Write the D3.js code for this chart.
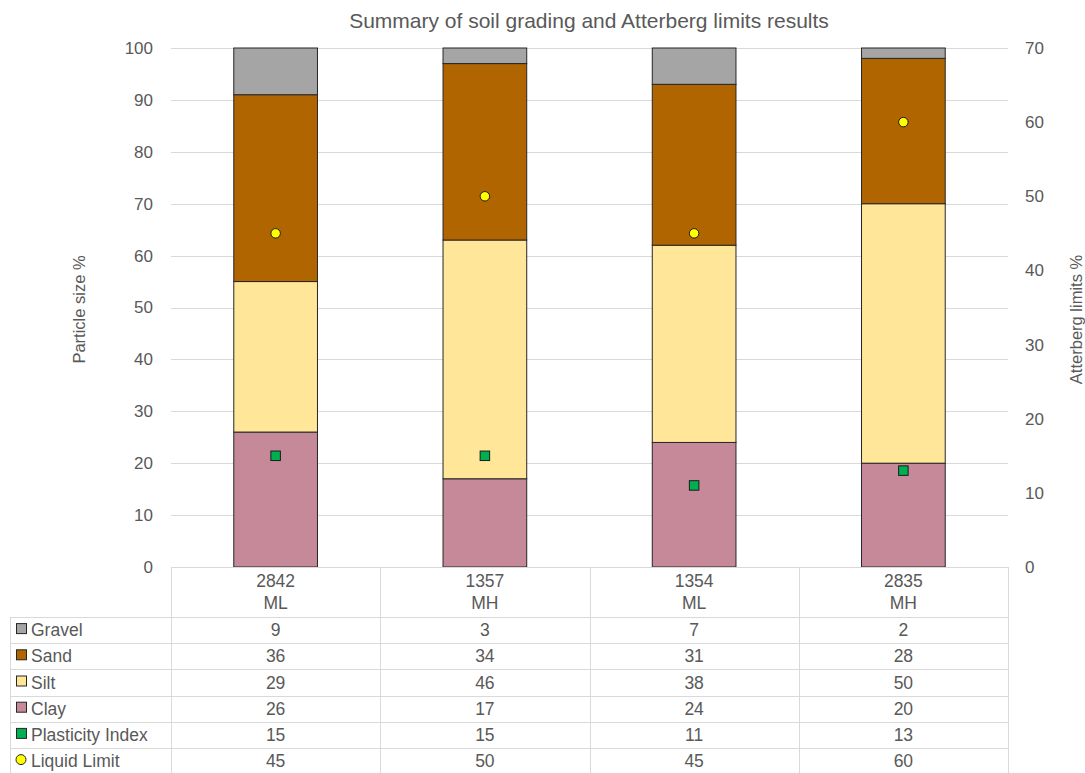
<!DOCTYPE html>
<html>
<head>
<meta charset="utf-8">
<script src="https://cdn.jsdelivr.net/npm/d3@7"></script>
<style>
  html, body { margin: 0; padding: 0; background: #fff; }
  svg { display: block; font-family: "Liberation Sans", Arial, sans-serif; }
</style>
</head>
<body>
<svg id="chart" width="1085" height="773"></svg>
<script>
// Samples: lab number and soil classification
const sampleIds = ["2842", "1357", "1354", "2835"];
const sampleClasses = ["ML", "MH", "ML", "MH"];

// Particle size distribution (%)
const gravel = [9, 3, 7, 2];
const sand = [36, 34, 31, 28];
const silt = [29, 46, 38, 50];
const clay = [26, 17, 24, 20];

// Atterberg limits (%)
const plasticityIndex = [15, 15, 11, 13];
const liquidLimit = [45, 50, 45, 60];

const leftTicks = [0, 10, 20, 30, 40, 50, 60, 70, 80, 90, 100];
const rightTicks = [0, 10, 20, 30, 40, 50, 60, 70];

const gradingSeries = [
  { name: "Clay", values: clay, color: "#C5899A" },
  { name: "Silt", values: silt, color: "#FFE699" },
  { name: "Sand", values: sand, color: "#B06500" },
  { name: "Gravel", values: gravel, color: "#A5A5A5" }
];

const svg = d3.select("#chart");
const textColor = "#595959";
const gridColor = "#D9D9D9";
const fontSize = 17.5;

const plot = { left: 171, right: 1008, top: 48, bottom: 567 };

const x = d3.scaleBand().domain(sampleIds).range([plot.left, plot.right]).paddingInner(0).paddingOuter(0);
const yLeft = d3.scaleLinear().domain([0, 100]).range([plot.bottom, plot.top]);
const yRight = d3.scaleLinear().domain([0, 70]).range([plot.bottom, plot.top]);

// Title
svg.append("text")
  .attr("x", 589).attr("y", 28)
  .attr("text-anchor", "middle")
  .attr("font-size", 21)
  .attr("fill", textColor)
  .text("Summary of soil grading and Atterberg limits results");

// Horizontal gridlines
svg.append("g").selectAll("line").data(leftTicks.filter(d => d > 0)).join("line")
  .attr("x1", plot.left).attr("x2", plot.right)
  .attr("y1", d => Math.round(yLeft(d)) + 0.5).attr("y2", d => Math.round(yLeft(d)) + 0.5)
  .attr("stroke", gridColor).attr("stroke-width", 1);

// Left axis
const leftAxis = svg.append("g")
  .attr("transform", `translate(${plot.left - 18},0)`)
  .call(d3.axisLeft(yLeft).tickValues(leftTicks).tickSize(0).tickPadding(0));
leftAxis.select(".domain").remove();
leftAxis.selectAll("text").attr("font-size", 17).attr("fill", textColor)
  .attr("font-family", "Liberation Sans, Arial, sans-serif");

// Right axis
const rightAxis = svg.append("g")
  .attr("transform", `translate(${plot.right + 17},0)`)
  .call(d3.axisRight(yRight).tickValues(rightTicks).tickSize(0).tickPadding(0));
rightAxis.select(".domain").remove();
rightAxis.selectAll("text").attr("font-size", 17).attr("fill", textColor)
  .attr("font-family", "Liberation Sans, Arial, sans-serif");

// Axis titles
svg.append("text")
  .attr("transform", `translate(85,${(plot.top + plot.bottom) / 2 + 2}) rotate(-90)`)
  .attr("text-anchor", "middle")
  .attr("font-size", 16.5).attr("fill", textColor)
  .text("Particle size %");
svg.append("text")
  .attr("transform", `translate(1082,${(plot.top + plot.bottom) / 2 + 12}) rotate(-90)`)
  .attr("text-anchor", "middle")
  .attr("font-size", 16.5).attr("fill", textColor)
  .text("Atterberg limits %");

// Stacked grading bars
const stackData = sampleIds.map((id, i) => {
  const row = { id };
  gradingSeries.forEach(s => { row[s.name] = s.values[i]; });
  return row;
});
const stacked = d3.stack().keys(gradingSeries.map(s => s.name))(stackData);
const barWidth = x.bandwidth() * 0.4;

svg.append("g").selectAll("g").data(stacked).join("g")
  .attr("fill", (d, i) => gradingSeries[i].color)
  .selectAll("rect").data(d => d).join("rect")
    .attr("x", d => x(d.data.id) + (x.bandwidth() - barWidth) / 2)
    .attr("width", barWidth)
    .attr("y", d => yLeft(d[1]))
    .attr("height", d => yLeft(d[0]) - yLeft(d[1]))
    .attr("stroke", "#262626").attr("stroke-width", 1);

// Plasticity index markers
const cx = d => x(d) + x.bandwidth() / 2;
svg.append("g").selectAll("rect").data(sampleIds).join("rect")
  .attr("x", (d) => cx(d) - 4.75)
  .attr("y", (d, i) => yRight(plasticityIndex[i]) - 4.75)
  .attr("width", 9.5).attr("height", 9.5)
  .attr("fill", "#00B050").attr("stroke", "#1a1a1a").attr("stroke-width", 1);

// Liquid limit markers
svg.append("g").selectAll("circle").data(sampleIds).join("circle")
  .attr("cx", d => cx(d))
  .attr("cy", (d, i) => yRight(liquidLimit[i]))
  .attr("r", 4.75)
  .attr("fill", "#FFFF00").attr("stroke", "#1a1a1a").attr("stroke-width", 1);

// Data table below the chart
const headerBottom = 617;
const rowH = 26.2;
const tableLeft = 10;
const tableRows = [
  { name: "Gravel", values: gravel, marker: "square", color: "#A5A5A5" },
  { name: "Sand", values: sand, marker: "square", color: "#B06500" },
  { name: "Silt", values: silt, marker: "square", color: "#FFE699" },
  { name: "Clay", values: clay, marker: "square", color: "#C5899A" },
  { name: "Plasticity Index", values: plasticityIndex, marker: "square", color: "#00B050" },
  { name: "Liquid Limit", values: liquidLimit, marker: "circle", color: "#FFFF00" }
];
const table = svg.append("g");

// Horizontal table rules
const hRules = d3.range(tableRows.length + 1).map(i => headerBottom + i * rowH);
table.selectAll("line.h").data(hRules).join("line")
  .attr("class", "h")
  .attr("x1", tableLeft).attr("x2", plot.right)
  .attr("y1", d => Math.round(d) + 0.5).attr("y2", d => Math.round(d) + 0.5)
  .attr("stroke", gridColor);
// Baseline under the plot across category columns
table.append("line")
  .attr("x1", plot.left).attr("x2", plot.right)
  .attr("y1", plot.bottom + 0.5).attr("y2", plot.bottom + 0.5)
  .attr("stroke", gridColor);
// Vertical rules
const vRules = sampleIds.map(d => x(d)).concat([plot.right]);
table.selectAll("line.v").data(vRules).join("line")
  .attr("class", "v")
  .attr("x1", d => Math.round(d) + 0.5).attr("x2", d => Math.round(d) + 0.5)
  .attr("y1", plot.bottom).attr("y2", 773)
  .attr("stroke", gridColor);
table.append("line")
  .attr("x1", tableLeft + 0.5).attr("x2", tableLeft + 0.5)
  .attr("y1", headerBottom).attr("y2", 773)
  .attr("stroke", gridColor);

// Header: sample id and class
sampleIds.forEach((id, i) => {
  const t = table.append("text")
    .attr("x", cx(id)).attr("text-anchor", "middle")
    .attr("font-size", fontSize).attr("fill", textColor);
  t.append("tspan").attr("x", cx(id)).attr("y", 587).text(id);
  t.append("tspan").attr("x", cx(id)).attr("y", 609).text(sampleClasses[i]);
});

// Rows
tableRows.forEach((r, ri) => {
  const midY = headerBottom + ri * rowH + rowH / 2;
  if (r.marker === "square") {
    table.append("rect")
      .attr("x", 16.5).attr("y", midY - 6.5)
      .attr("width", 10).attr("height", 10)
      .attr("fill", r.color).attr("stroke", "#262626").attr("stroke-width", 1);
  } else {
    table.append("circle")
      .attr("cx", 21).attr("cy", midY - 1.5).attr("r", 5)
      .attr("fill", r.color).attr("stroke", "#262626").attr("stroke-width", 1);
  }
  table.append("text")
    .attr("x", 31).attr("y", midY + 6)
    .attr("font-size", fontSize).attr("fill", textColor)
    .text(r.name);
  r.values.forEach((v, i) => {
    table.append("text")
      .attr("x", cx(sampleIds[i])).attr("y", midY + 6)
      .attr("text-anchor", "middle")
      .attr("font-size", fontSize).attr("fill", textColor)
      .text(v);
  });
});
</script>
</body>
</html>
